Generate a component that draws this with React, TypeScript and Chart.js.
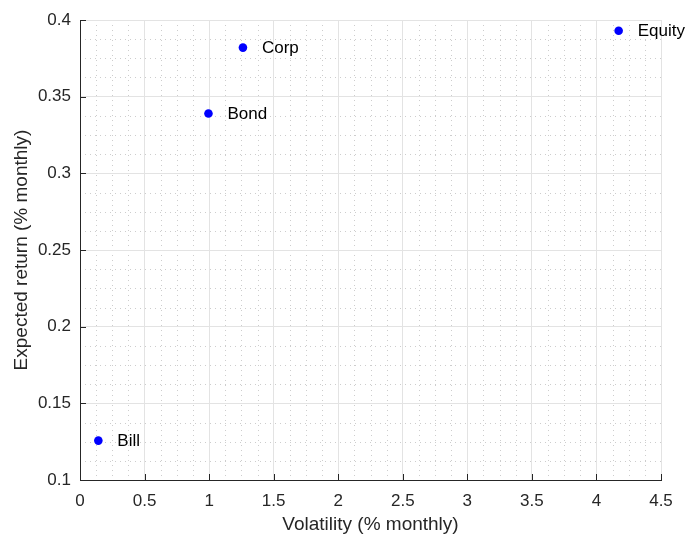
import React, { useEffect, useRef } from "react";
import { Chart, registerables } from "chart.js";

Chart.register(...registerables);

const assetNames = ["Bill", "Bond", "Corp", "Equity"];
const volatility = [0.142, 0.995, 1.262, 4.172];
const expectedReturn = [0.1257, 0.339, 0.382, 0.393];
const xTickValues = [0, 0.5, 1, 1.5, 2, 2.5, 3, 3.5, 4, 4.5];
const xTickLabels = ["0", "0.5", "1", "1.5", "2", "2.5", "3", "3.5", "4", "4.5"];
const yTickValues = [0.1, 0.15, 0.2, 0.25, 0.3, 0.35, 0.4];
const yTickLabels = ["0.1", "0.15", "0.2", "0.25", "0.3", "0.35", "0.4"];
const xMinorStep = 0.125;
const yMinorStep = 0.0125;

const FONT = "'Liberation Sans', Arial, Helvetica, sans-serif";
const AXIS_COLOR = "#262626";

function labelFor(values: number[], labels: string[], v: number) {
  for (let i = 0; i < values.length; i++) {
    if (Math.abs(values[i] - v) < 1e-9) return labels[i];
  }
  return "";
}

const minorGridPlugin = {
  id: "minorGrid",
  beforeDraw(chart: any) {
    const { ctx, chartArea, scales } = chart;
    const xs = scales.x;
    const ys = scales.y;
    ctx.save();
    ctx.strokeStyle = "#cdcdcd";
    ctx.lineWidth = 1;
    ctx.setLineDash([1, 4]);
    const nx = Math.round((xs.max - xs.min) / xMinorStep);
    for (let i = 1; i < nx; i++) {
      if (i % 4 === 0) continue;
      const v = xs.min + i * xMinorStep;
      const px = Math.round(xs.getPixelForValue(v)) + 0.5;
      ctx.beginPath();
      ctx.moveTo(px, chartArea.top);
      ctx.lineTo(px, chartArea.bottom);
      ctx.stroke();
    }
    const ny = Math.round((ys.max - ys.min) / yMinorStep);
    for (let i = 1; i < ny; i++) {
      if (i % 4 === 0) continue;
      const v = ys.min + i * yMinorStep;
      const py = Math.round(ys.getPixelForValue(v)) + 0.5;
      ctx.beginPath();
      ctx.moveTo(chartArea.left, py);
      ctx.lineTo(chartArea.right, py);
      ctx.stroke();
    }
    ctx.restore();
  },
  afterDraw(chart: any) {
    const { ctx, chartArea, scales } = chart;
    const xs = scales.x;
    const ys = scales.y;
    ctx.save();
    ctx.strokeStyle = AXIS_COLOR;
    ctx.lineWidth = 1;
    const len = 6;
    xTickValues.forEach((v) => {
      const px = Math.round(xs.getPixelForValue(v)) + 0.5;
      ctx.beginPath();
      ctx.moveTo(px, chartArea.bottom);
      ctx.lineTo(px, chartArea.bottom - len);
      ctx.stroke();
    });
    yTickValues.forEach((v) => {
      const py = Math.round(ys.getPixelForValue(v)) + 0.5;
      ctx.beginPath();
      ctx.moveTo(chartArea.left, py);
      ctx.lineTo(chartArea.left + len, py);
      ctx.stroke();
    });
    // point labels
    const meta = chart.getDatasetMeta(0);
    ctx.fillStyle = "#000000";
    ctx.font = `17px ${FONT}`;
    ctx.textAlign = "left";
    ctx.textBaseline = "middle";
    meta.data.forEach((el: any, i: number) => {
      ctx.fillText(assetNames[i], el.x + 19, el.y + 1);
    });
    ctx.restore();
  },
};

export default function App() {
  const ref = useRef<HTMLCanvasElement | null>(null);
  useEffect(() => {
    if (!ref.current) return;
    const chart = new Chart(ref.current, {
      type: "scatter",
      data: {
        datasets: [
          {
            label: "Assets",
            data: volatility.map((v, i) => ({ x: v, y: expectedReturn[i] })),
            backgroundColor: "#0000ff",
            borderColor: "#0000ff",
            pointRadius: 4.3,
            pointHoverRadius: 4.3,
            borderWidth: 0,
          },
        ],
      },
      options: {
        animation: false,
        responsive: false,
        devicePixelRatio: 1,
        layout: { padding: { left: 0, right: 25, top: 20, bottom: 0 } },
        plugins: {
          legend: { display: false },
          tooltip: { enabled: false },
        },
        scales: {
          x: {
            type: "linear",
            min: 0,
            max: 4.5,
            afterBuildTicks: (scale: any) => {
              scale.ticks = xTickValues.map((v) => ({ value: v }));
            },
            afterFit: (scale: any) => {
              scale.height = 56;
            },
            grid: {
              color: "#e3e3e3",
              lineWidth: 1,
              drawTicks: false,
            },
            border: { display: true, color: AXIS_COLOR, width: 1 },
            ticks: {
              color: AXIS_COLOR,
              font: { family: FONT, size: 17 },
              padding: 11,
              maxRotation: 0,
              autoSkip: false,
              callback: (v: any) => labelFor(xTickValues, xTickLabels, Number(v)),
            },
            title: {
              display: true,
              text: "Volatility (% monthly)",
              color: AXIS_COLOR,
              font: { family: FONT, size: 19 },
              padding: { top: 0, bottom: 0 },
            },
          },
          y: {
            type: "linear",
            min: 0.1,
            max: 0.4,
            afterBuildTicks: (scale: any) => {
              scale.ticks = yTickValues.map((v) => ({ value: v }));
            },
            afterFit: (scale: any) => {
              scale.width = 80;
            },
            grid: {
              color: "#e3e3e3",
              lineWidth: 1,
              drawTicks: false,
            },
            border: { display: true, color: AXIS_COLOR, width: 1 },
            ticks: {
              color: AXIS_COLOR,
              font: { family: FONT, size: 17 },
              padding: 9,
              autoSkip: false,
              callback: (v: any) => labelFor(yTickValues, yTickLabels, Number(v)),
            },
            title: {
              display: true,
              text: "Expected return (% monthly)",
              color: AXIS_COLOR,
              font: { family: FONT, size: 19 },
              padding: { top: 10, bottom: 0 },
            },
          },
        },
      },
      plugins: [minorGridPlugin],
    });
    return () => chart.destroy();
  }, []);
  return (
    <div style={{ position: "absolute", left: 0, top: 0, width: 686, height: 536, background: "#ffffff" }}>
      <canvas ref={ref} width={686} height={536} style={{ width: 686, height: 536 }} />
    </div>
  );
}
